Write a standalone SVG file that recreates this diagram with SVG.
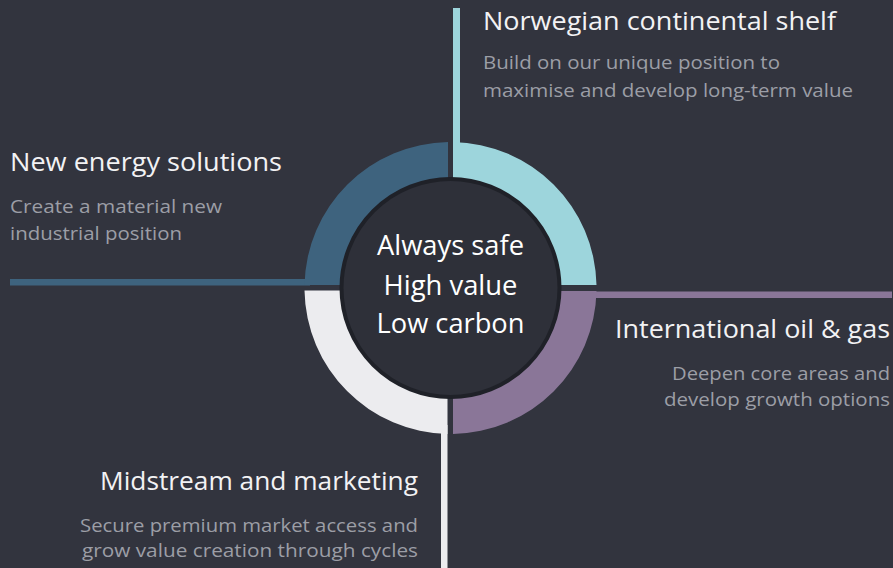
<svg xmlns="http://www.w3.org/2000/svg" width="893" height="568" viewBox="0 0 893 568">
<style>
.title{font-family:"Open Sans","Liberation Sans",sans-serif;font-size:25.5px;fill:#f2f2f4}
.sub{font-family:"Open Sans","Liberation Sans",sans-serif;font-size:19px;fill:#9c9ea6}
.core{font-family:"Open Sans","Liberation Sans",sans-serif;font-size:27.5px;fill:#ffffff;text-anchor:middle}
.end{text-anchor:end}
</style>
<rect width="893" height="568" fill="#32343e"/>
<g id="connectors">
<rect x="453" y="8" width="7" height="140" fill="#9dd5dc"/>
<rect x="10" y="279" width="300" height="6.5" fill="#3e637e"/>
<rect x="590" y="291.5" width="302" height="6.5" fill="#8a7698"/>
<rect x="441" y="425" width="6.5" height="143" fill="#ececef"/>
</g>
<g id="ncs">
<path d="M453,142 A146,146 0 0 1 596.5,285 L558.5,285 A108,108 0 0 0 453,180 Z" fill="#9dd5dc"/>
<text class="title" x="483" y="30" textLength="353" lengthAdjust="spacingAndGlyphs">Norwegian continental shelf</text>
<text class="sub" x="483" y="69" textLength="297" lengthAdjust="spacingAndGlyphs">Build on our unique position to</text>
<text class="sub" x="483" y="97" textLength="370" lengthAdjust="spacingAndGlyphs">maximise and develop long-term value</text>
</g>
<g id="nes">
<path d="M304.5,285 A146,146 0 0 1 448,142 L448,180 A108,108 0 0 0 342.5,285 Z" fill="#3e637e"/>
<text class="title" x="10" y="171" textLength="272" lengthAdjust="spacingAndGlyphs">New energy solutions</text>
<text class="sub" x="10" y="213" textLength="212" lengthAdjust="spacingAndGlyphs">Create a material new</text>
<text class="sub" x="10" y="240" textLength="172" lengthAdjust="spacingAndGlyphs">industrial position</text>
</g>
<g id="iog">
<path d="M596.5,291 A146,146 0 0 1 453,434 L453,396 A108,108 0 0 0 558.5,291 Z" fill="#8a7698"/>
<text class="title end" x="890" y="338" textLength="275" lengthAdjust="spacingAndGlyphs">International oil &amp; gas</text>
<text class="sub end" x="890" y="380" textLength="218" lengthAdjust="spacingAndGlyphs">Deepen core areas and</text>
<text class="sub end" x="890" y="406" textLength="226" lengthAdjust="spacingAndGlyphs">develop growth options</text>
</g>
<g id="mm">
<path d="M447.5,434 A146,146 0 0 1 304.5,290.5 L342.5,290.5 A108,108 0 0 0 447.5,396 Z" fill="#ececef"/>
<text class="title end" x="418" y="490" textLength="318" lengthAdjust="spacingAndGlyphs">Midstream and marketing</text>
<text class="sub end" x="418" y="532" textLength="338" lengthAdjust="spacingAndGlyphs">Secure premium market access and</text>
<text class="sub end" x="418" y="557" textLength="336" lengthAdjust="spacingAndGlyphs">grow value creation through cycles</text>
</g>
<g id="core">
<circle cx="450.5" cy="288" r="109" fill="#2e3039" stroke="#1f2128" stroke-width="4"/>
<text class="core" x="450.5" y="255" textLength="147" lengthAdjust="spacingAndGlyphs">Always safe</text>
<text class="core" x="450.5" y="295" textLength="134" lengthAdjust="spacingAndGlyphs">High value</text>
<text class="core" x="450.5" y="333" textLength="148" lengthAdjust="spacingAndGlyphs">Low carbon</text>
</g>
</svg>
